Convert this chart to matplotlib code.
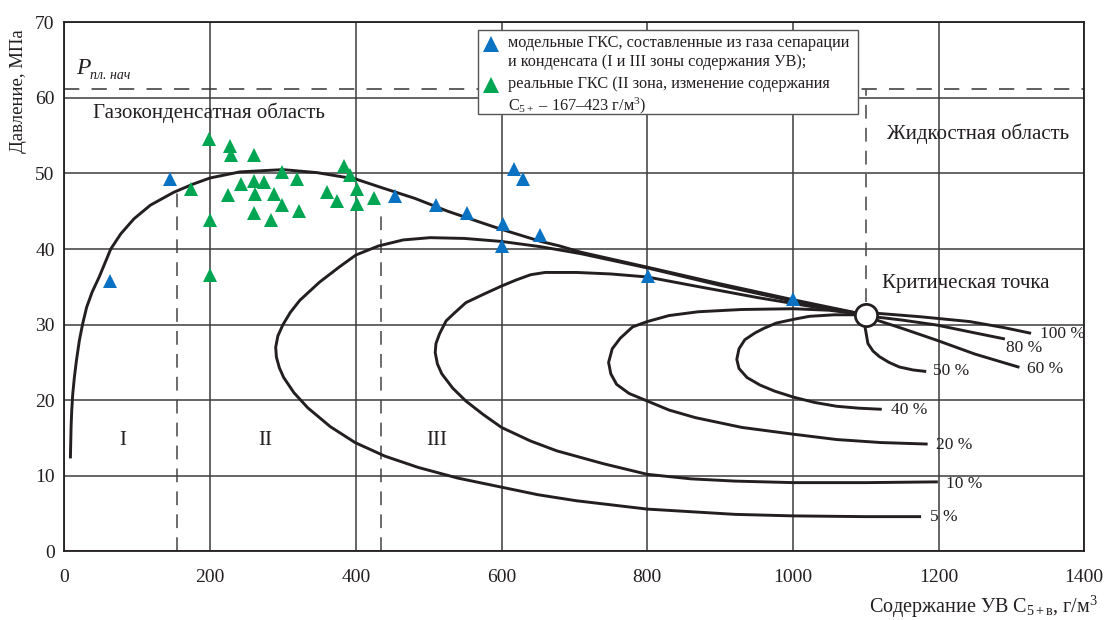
import matplotlib
matplotlib.use("Agg")
import matplotlib.pyplot as plt
from matplotlib.patches import Rectangle

plt.rcParams["font.family"] = ["Liberation Serif", "DejaVu Serif"]
plt.rcParams["mathtext.fontset"] = "custom"
plt.rcParams["mathtext.rm"] = "Liberation Serif"
plt.rcParams["mathtext.it"] = "Liberation Serif:italic"

# --- data ----------------------------------------------------------------
# model gas-condensate systems (blue) and real ones (green)
model_x = [62, 145, 454, 510, 552, 602, 601, 617, 629, 653, 801, 1000]
model_y = [35.8, 49.3, 47.0, 45.8, 44.7, 43.3, 40.4, 50.6, 49.2, 41.9, 36.4, 33.4]
real_x = [198, 227, 229, 260, 174, 200, 200, 225, 242, 260, 274, 262, 260,
          283, 288, 298, 298, 319, 322, 361, 374, 384, 392, 401, 402, 425]
real_y = [54.5, 53.6, 52.4, 52.4, 47.9, 43.8, 36.5, 47.2, 48.6, 49.0, 48.9,
          47.3, 44.8, 43.9, 47.3, 45.8, 50.2, 49.3, 45.0, 47.5, 46.3, 51.0,
          49.8, 48.0, 45.9, 46.8]

# phase envelope
env_x = [8.2, 8.6, 9.1, 10, 11.4, 13.6, 16.4, 20.5, 25, 30.5, 38, 47.7, 55,
         63.6, 77.3, 95.5, 118, 150, 177, 200, 241, 300, 347, 400, 436, 481,
         526, 572, 600, 654, 680, 708, 800, 900, 1000, 1050, 1100]
env_y = [12.3, 14.2, 16.4, 18.6, 20.8, 23.0, 25.2, 27.9, 30.1, 32.3, 34.3,
         36.3, 38.0, 40.0, 42.0, 44.0, 45.8, 47.5, 48.6, 49.4, 50.2, 50.5,
         50.1, 49.25, 48.1, 46.7, 45.0, 43.5, 42.6, 41.0, 40.4, 39.6, 37.6,
         35.4, 33.3, 32.3, 31.3]

# iso-liquid lines (percent of liquid phase)
q5_x = [1100, 1000, 900, 800, 708, 654, 600, 549, 502, 465, 431, 400, 377, 350,
        323, 310, 300, 293, 290, 291, 295, 301, 315, 334, 365, 399, 440, 486,
        540, 600, 650, 703, 800, 921, 1001, 1100, 1176]
q5_y = [31.3, 33.1, 35.2, 37.5, 39.4, 40.3, 41.0, 41.4, 41.5, 41.2, 40.4, 39.2,
        37.6, 35.6, 33.2, 31.6, 30.0, 28.5, 27.0, 25.7, 24.3, 23.0, 21.0, 19.0,
        16.5, 14.4, 12.6, 11.1, 9.7, 8.5, 7.5, 6.7, 5.6, 4.9, 4.7, 4.6, 4.6]
q10_x = [1100, 1050, 1000, 950, 900, 866, 800, 750, 703, 660, 640, 620, 600,
         575, 551, 535, 524, 515, 510, 509, 512, 518, 533, 551, 575, 600, 640,
         676, 740, 800, 860, 921, 1001, 1100, 1199]
q10_y = [31.3, 32.0, 32.8, 33.6, 34.5, 35.1, 36.3, 36.7, 36.9, 36.9, 36.6,
         35.9, 35.1, 34.0, 32.9, 31.5, 30.5, 28.8, 27.5, 26.3, 24.8, 23.5,
         21.6, 19.9, 18.1, 16.4, 14.6, 13.3, 11.6, 10.2, 9.6, 9.3, 9.1, 9.1, 9.2]
q20_x = [1100, 1050, 1000, 930, 870, 830, 800, 780, 763, 752, 747, 750, 758,
         775, 800, 830, 866, 930, 1001, 1060, 1121, 1185]
q20_y = [31.3, 31.9, 32.1, 32.0, 31.7, 31.2, 30.4, 29.7, 28.2, 26.8, 25.0, 23.5,
         22.1, 20.9, 19.9, 18.7, 17.7, 16.4, 15.5, 14.8, 14.4, 14.2]
q40_x = [1100, 1057, 1023, 1001, 977, 960, 948, 934, 926, 923, 926, 937, 955,
         975, 1001, 1030, 1060, 1090, 1122]
q40_y = [31.3, 31.3, 31.1, 30.7, 30.2, 29.5, 28.9, 28.0, 26.8, 25.4, 24.2, 23.0,
         22.0, 21.2, 20.4, 19.7, 19.2, 18.95, 18.8]
q50_x = [1100, 1099, 1103, 1110, 1119, 1132, 1146, 1165, 1183]
q50_y = [31.3, 29.7, 27.5, 26.5, 25.75, 25.0, 24.4, 24.0, 23.8]
q60_x = [1100, 1115, 1150, 1197, 1250, 1311]
q60_y = [31.3, 30.6, 29.5, 27.95, 26.1, 24.35]
q80_x = [1100, 1115, 1150, 1197, 1250, 1291]
q80_y = [31.3, 31.0, 30.6, 29.95, 28.9, 28.1]
q100_x = [1100, 1115, 1174, 1243, 1290, 1327]
q100_y = [31.3, 31.5, 31.05, 30.4, 29.6, 28.85]

pct_labels = ["100 %", "80 %", "60 %", "50 %", "40 %", "20 %", "10 %", "5 %"]
pct_x = [1339, 1293, 1321, 1192, 1135, 1196, 1210, 1188]
pct_y = [28.8, 26.9, 24.1, 23.9, 18.7, 14.1, 8.9, 4.6]

crit_x, crit_y = 1100, 31.3
p_init = 61.2
zone_bounds = [154, 434]
zone_tops = [47.7, 44.5]

x_ticks = list(range(0, 1401, 200))
y_ticks = list(range(0, 71, 10))

BLUE = "#0a72c2"
GREEN = "#00a651"
INK = "#231f20"


def main() -> None:
    fig = plt.figure(figsize=(11.09, 6.2), dpi=100)
    ax = fig.add_axes([0.0581, 0.1106, 0.9196, 0.8536])
    ax.set_xlim(0, 1400)
    ax.set_ylim(0, 70)
    ax.set_xticks(x_ticks)
    ax.set_yticks(y_ticks)
    ax.tick_params(length=0, labelsize=14, colors=INK)
    ax.tick_params(axis="x", pad=13)
    ax.tick_params(axis="y", pad=7)
    ax.grid(True, color="#3c3c3c", lw=1.1, zorder=0)
    ax.set_axisbelow(True)
    for s in ax.spines.values():
        s.set_linewidth(1.3)
        s.set_color(INK)

    # dashed guides
    ax.axhline(p_init, color="#333333", lw=1.1, dashes=(10, 8), zorder=1)
    for xb, top in zip(zone_bounds, zone_tops):
        ax.plot([xb, xb], [0, top], color="#444444", lw=1.1, dashes=(9, 6), zorder=1)
    ax.plot([crit_x, crit_x], [33.0, p_init], color="#444444", lw=1.1,
            dashes=(9, 6), zorder=1)

    curve_kw = dict(color=INK, lw=2.1, solid_capstyle="butt",
                    solid_joinstyle="round", zorder=3)
    for cx, cy in [(env_x, env_y), (q5_x, q5_y), (q10_x, q10_y), (q20_x, q20_y),
                   (q40_x, q40_y), (q50_x, q50_y), (q60_x, q60_y),
                   (q80_x, q80_y), (q100_x, q100_y)]:
        ax.plot(cx, cy, **curve_kw)

    ax.plot(real_x, real_y, "^", color=GREEN, ms=10.5, mew=0, zorder=4)
    ax.plot(model_x, model_y, "^", color=BLUE, ms=10.5, mew=0, zorder=4)
    ax.plot([crit_x], [crit_y], "o", ms=16, mfc="white", mec=INK,
            mew=2, zorder=5)

    for lab, lx, ly in zip(pct_labels, pct_x, pct_y):
        ax.text(lx, ly, lab, fontsize=12.5, ha="left", va="center",
                color=INK, zorder=6)

    txt = dict(fontsize=15, color=INK, zorder=6)
    ax.text(198, 58.0, "Газоконденсатная область", ha="center", va="center", **txt)
    ax.text(1254, 55.3, "Жидкостная область", ha="center", va="center", **txt)
    ax.text(1237, 35.4, "Критическая точка", ha="center", va="center", **txt)
    for lab, lx in [("I", 80), ("II", 275), ("III", 511)]:
        ax.text(lx, 14.7, lab, ha="center", va="center", **txt)
    ax.text(16, 63.9, "$P$", fontsize=17, ha="left", va="center", color=INK)
    ax.text(35, 62.9, "пл. нач", fontsize=10, style="italic", ha="left",
            va="center", color=INK)

    ax.set_ylabel("Давление, МПа", fontsize=13.5, color=INK)
    ax.yaxis.set_label_coords(-0.037, 0.87)
    ax.set_xlabel(r"Содержание УВ C$_{\mathrm{5+в}}$, г/м$^3$", fontsize=14.5,
                  color=INK, ha="right")
    ax.xaxis.set_label_coords(1.013, -0.08)

    # legend box
    ax.add_patch(Rectangle((0.4055, 0.8265), 0.3725, 0.1588, transform=ax.transAxes,
                           facecolor="white", edgecolor="#555555", lw=1.0, zorder=7))
    ax.plot([0.4182], [0.958], "^", color=BLUE, ms=12, mew=0,
            transform=ax.transAxes, zorder=8, clip_on=False)
    ax.plot([0.4182], [0.882], "^", color=GREEN, ms=12, mew=0,
            transform=ax.transAxes, zorder=8, clip_on=False)
    leg_kw = dict(fontsize=11.7, color=INK, ha="left", va="top",
                  linespacing=1.25, transform=ax.transAxes, zorder=8)
    ax.text(0.435, 0.975, "модельные ГКС, составленные из газа сепарации\n"
            "и конденсата (I и III зоны содержания УВ);", **leg_kw)
    ax.text(0.435, 0.899, "реальные ГКС (II зона, изменение содержания\n"
            r"C$_{5+}$ – 167–423 г/м$^3$)", **leg_kw)

    fig.savefig("out.png", dpi=100)
    plt.close(fig)


if __name__ == "__main__":
    main()
